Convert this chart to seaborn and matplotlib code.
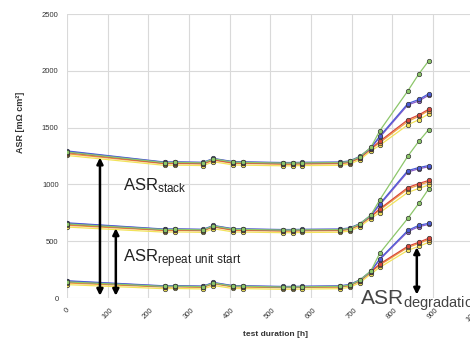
import pandas as pd
import matplotlib
matplotlib.use("Agg")
import matplotlib.pyplot as plt
import seaborn as sns

# test duration [h] at each measurement
hours = [0, 240, 265, 335, 360, 408, 432, 530, 555, 577, 670, 695, 720, 747, 769, 838, 865, 889]

# stack level
top_yellow = [1255, 1168, 1170, 1166, 1200, 1172, 1170, 1164, 1164, 1166, 1168, 1178, 1218, 1295, 1345, 1525, 1570, 1620]
top_orange = [1270, 1182, 1184, 1180, 1214, 1186, 1185, 1178, 1178, 1180, 1182, 1192, 1232, 1310, 1368, 1555, 1600, 1650]
top_red = [1280, 1186, 1188, 1184, 1218, 1190, 1189, 1182, 1182, 1184, 1186, 1196, 1236, 1314, 1380, 1570, 1612, 1662]
top_purple = [1290, 1194, 1196, 1192, 1226, 1198, 1196, 1190, 1190, 1192, 1194, 1204, 1244, 1320, 1415, 1700, 1735, 1785]
top_blue = [1295, 1197, 1199, 1195, 1229, 1201, 1199, 1193, 1193, 1195, 1197, 1207, 1247, 1323, 1425, 1712, 1748, 1798]
top_green = [1285, 1192, 1194, 1190, 1226, 1196, 1194, 1188, 1188, 1190, 1192, 1202, 1244, 1326, 1473, 1824, 1973, 2087]

# middle level
mid_yellow = [625, 580, 582, 578, 610, 582, 581, 575, 575, 577, 579, 589, 628, 700, 752, 930, 965, 995]
mid_orange = [640, 594, 596, 592, 625, 596, 595, 589, 589, 591, 593, 603, 642, 715, 775, 960, 995, 1022]
mid_red = [648, 598, 600, 596, 629, 600, 599, 593, 593, 595, 597, 607, 646, 719, 785, 973, 1008, 1035]
mid_purple = [658, 604, 606, 602, 636, 607, 606, 600, 600, 602, 604, 614, 652, 725, 820, 1110, 1138, 1155]
mid_blue = [662, 607, 609, 605, 639, 610, 609, 603, 603, 605, 607, 617, 655, 728, 830, 1122, 1149, 1166]
mid_green = [652, 602, 604, 600, 635, 605, 604, 598, 598, 600, 602, 612, 652, 730, 865, 1250, 1380, 1482]

# lower level
low_yellow = [118, 82, 84, 80, 110, 84, 83, 77, 77, 79, 82, 94, 135, 212, 270, 420, 455, 490]
low_orange = [132, 96, 98, 94, 125, 98, 97, 91, 91, 93, 96, 108, 149, 227, 290, 445, 480, 515]
low_red = [140, 100, 102, 98, 130, 102, 101, 95, 95, 97, 100, 112, 153, 231, 300, 456, 491, 526]
low_purple = [148, 104, 106, 102, 134, 106, 105, 99, 99, 101, 104, 116, 157, 234, 338, 585, 628, 648]
low_blue = [152, 107, 109, 105, 137, 109, 108, 102, 102, 104, 107, 119, 160, 236, 345, 596, 640, 658]
low_green = [142, 102, 104, 100, 132, 104, 103, 97, 97, 99, 102, 114, 157, 238, 395, 702, 833, 960]

x_ticks = [0, 100, 200, 300, 400, 500, 600, 700, 800, 900, 1000]
y_ticks = [0, 500, 1000, 1500, 2000, 2500]

series_order = ["yellow", "orange", "red", "purple", "blue", "green"]
palette = {"yellow": "#f2e35a", "orange": "#f0a040", "red": "#d9483b",
           "purple": "#8a5cc8", "blue": "#4b5bd6", "green": "#8cc66a"}

levels = {
    "stack": [top_yellow, top_orange, top_red, top_purple, top_blue, top_green],
    "middle": [mid_yellow, mid_orange, mid_red, mid_purple, mid_blue, mid_green],
    "lower": [low_yellow, low_orange, low_red, low_purple, low_blue, low_green],
}

rows = []
for level, curves in levels.items():
    for name, vals in zip(series_order, curves):
        for h, v in zip(hours, vals):
            rows.append({"hours": h, "asr": v, "level": level, "series": name})
df = pd.DataFrame(rows)

sns.set_style("whitegrid")
plt.rcParams["font.family"] = ["Liberation Sans", "DejaVu Sans"]
plt.rcParams["mathtext.default"] = "regular"

fig = plt.figure(figsize=(4.7, 3.45), dpi=100)
ax = fig.add_axes([0.1426, 0.1362, 0.9, 0.823])

sns.lineplot(data=df, x="hours", y="asr", hue="series", units="level",
             estimator=None, sort=False, hue_order=series_order, palette=palette,
             marker="o", markersize=3.2, markeredgecolor="#333333",
             markeredgewidth=0.5, linewidth=0.9, legend=False, ax=ax)

ax.set_xlim(0, 1040)
ax.set_ylim(0, 2500)
ax.set_xticks(x_ticks)
ax.set_yticks(y_ticks)
ax.set_xticklabels([str(t) for t in x_ticks], rotation=45, ha="center",
                   fontsize=5.5, color="#333333")
ax.set_yticklabels([str(t) for t in y_ticks], fontsize=5.5, color="#333333")
ax.tick_params(length=0, pad=6)
for s in ax.spines.values():
    s.set_visible(False)
ax.grid(color="#d9d9d9", linewidth=0.8)

ax.set_xlabel("test duration [h]", fontsize=6, fontweight="bold", color="#333333")
ax.set_ylabel("ASR [m\u03a9 cm\u00b2]", fontsize=6.5, fontweight="bold", color="#333333")
ax.xaxis.set_label_coords(0.494, -0.115)
ax.yaxis.set_label_coords(-0.1, 0.62)

# double arrows
arrow = dict(arrowstyle="<|-|>", color="black", lw=1.8, mutation_scale=9,
             shrinkA=0, shrinkB=0)
ax.annotate("", xy=(81, 1237), xytext=(81, 20), arrowprops=arrow)
ax.annotate("", xy=(120, 614), xytext=(120, 20), arrowprops=arrow)
ax.annotate("", xy=(860, 447), xytext=(860, 30), arrowprops=arrow)

ax.text(138, 990, "ASR$_{stack}$", fontsize=12, color="#222222", va="center")
ax.text(138, 350, "ASR$_{repeat\\ unit\\ start}$", fontsize=12, color="#222222", va="center")
ax.text(720, -25, "ASR$_{degradation}$", fontsize=15, color="#444444", va="center",
        clip_on=False)

fig.savefig("out.png", dpi=100)
plt.close()
